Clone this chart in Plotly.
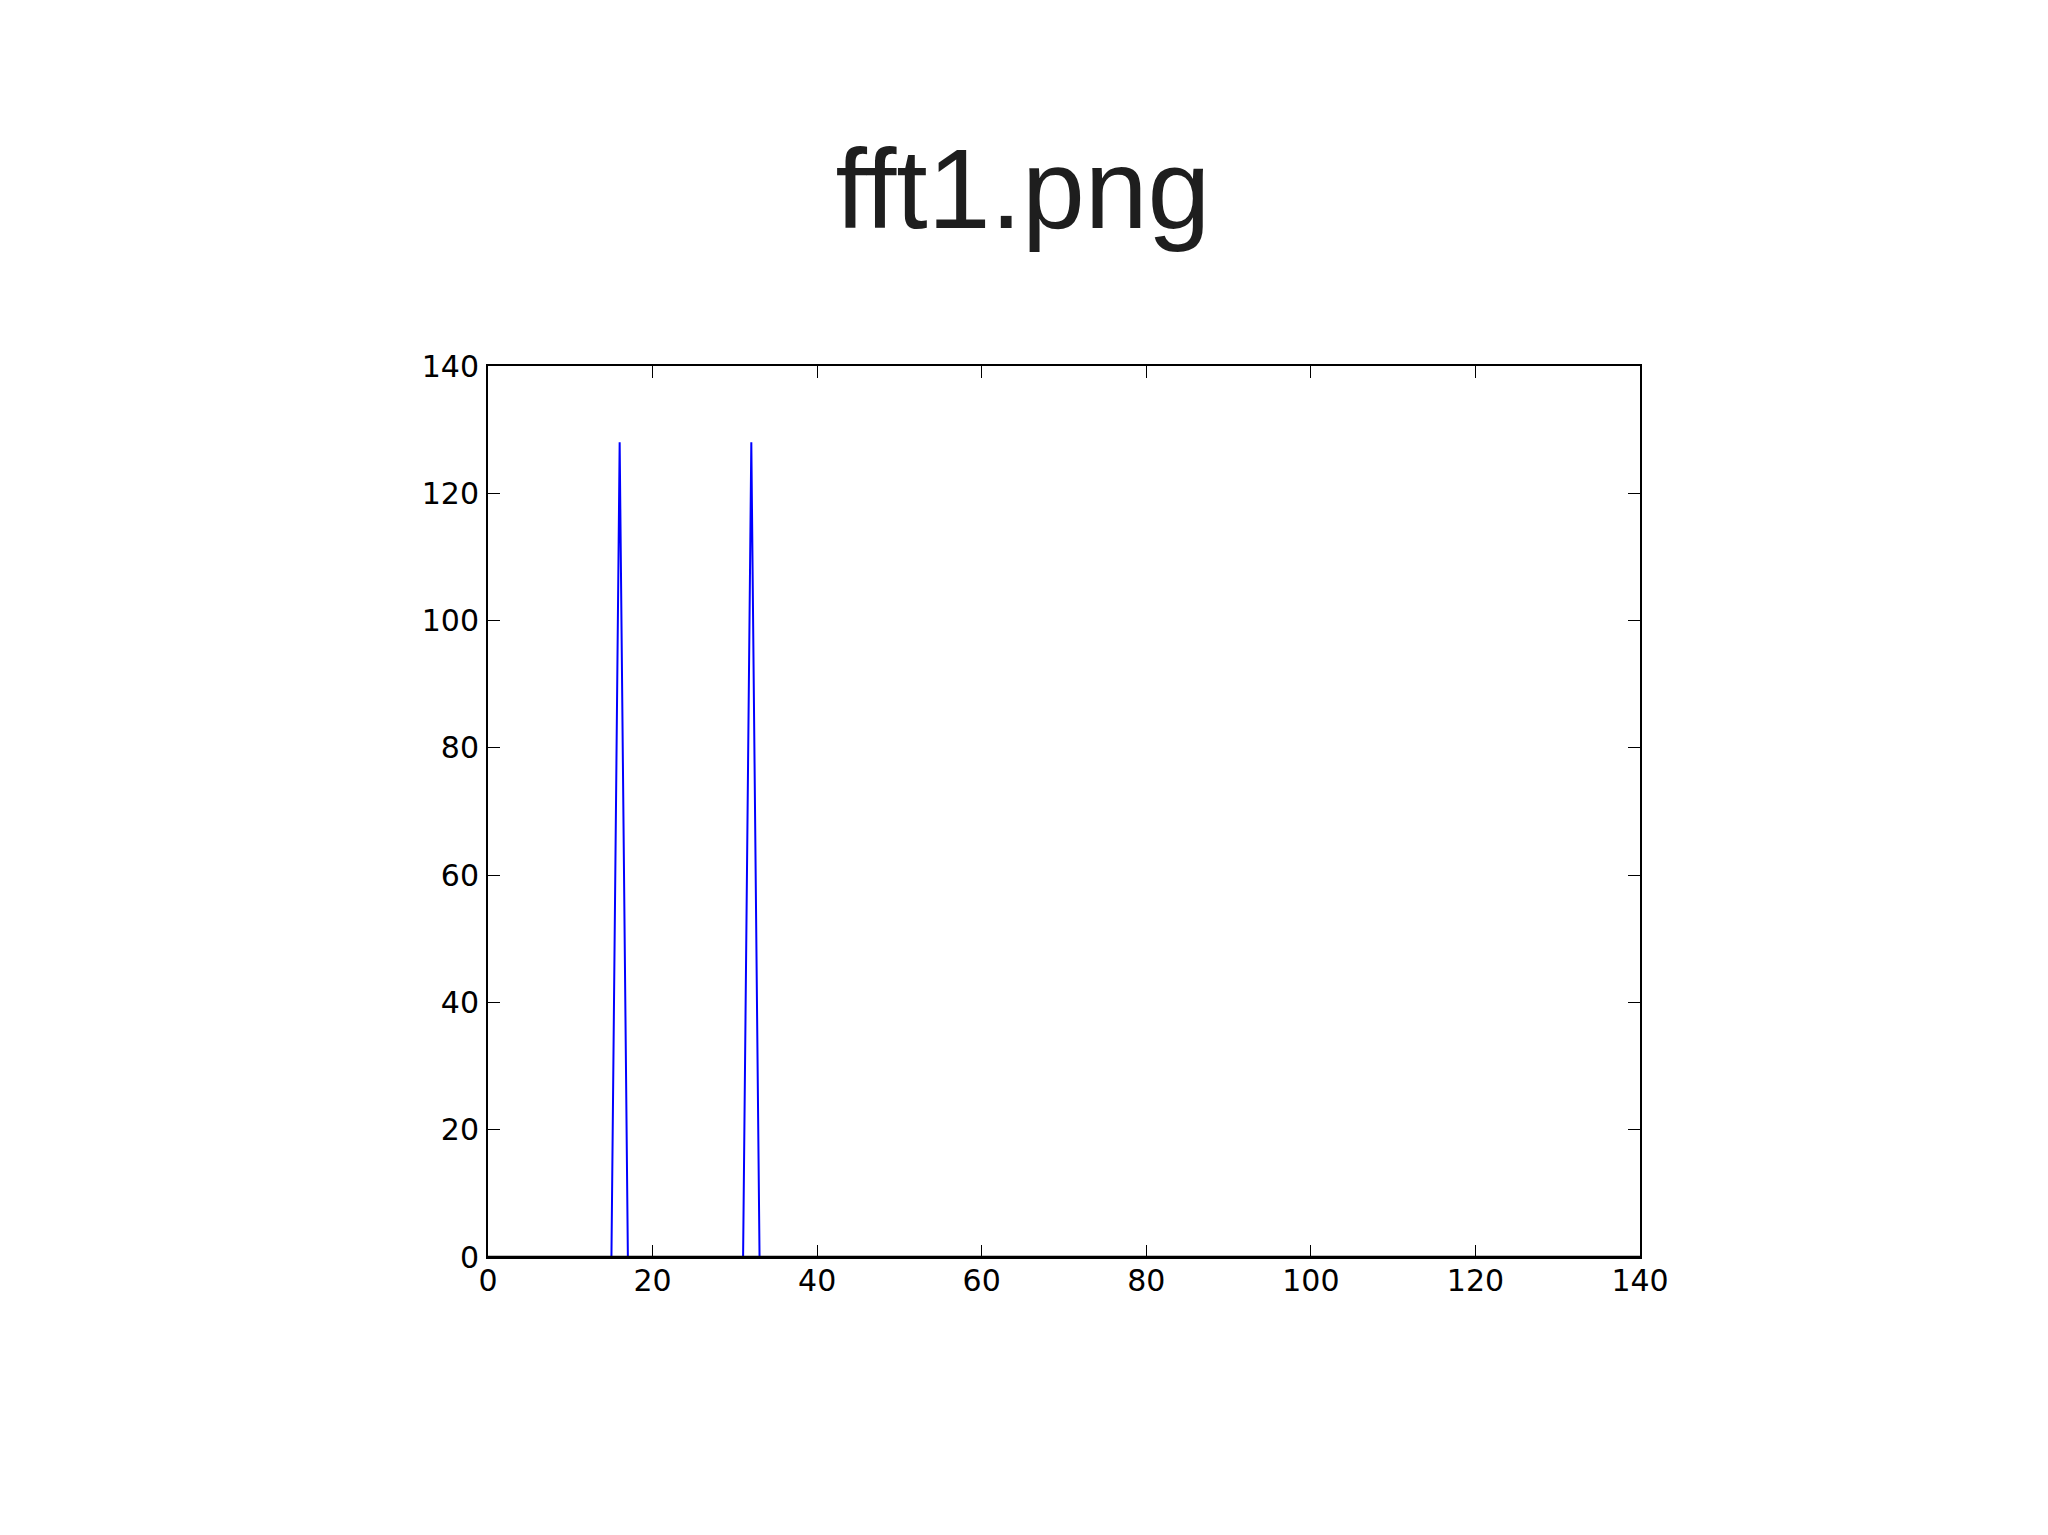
import plotly.graph_objects as go

# fft magnitude of 128 samples: two spikes, zero elsewhere
freq_bin = list(range(128))
magnitude = [0] * 128
magnitude[16] = 128
magnitude[32] = 128

x_ticks = [0, 20, 40, 60, 80, 100, 120, 140]
y_ticks = [0, 20, 40, 60, 80, 100, 120, 140]

fig = go.Figure()
fig.add_trace(go.Scatter(x=freq_bin, y=magnitude, mode='lines',
                         line=dict(color='#0000ff', width=2), showlegend=False))

axis_style = dict(showline=True, linecolor='black', linewidth=2, mirror='ticks',
                  ticks='inside', ticklen=12, tickwidth=1.2, tickcolor='black',
                  showgrid=False, zeroline=False, layer='above traces',
                  tickfont=dict(family='DejaVu Sans', size=30, color='black'))

# page body has an 8px margin, so everything is shifted back by 8px
fig.update_layout(
    width=2048, height=1535,
    paper_bgcolor='white', plot_bgcolor='white',
    margin=dict(l=480, r=416, t=358, b=286, autoexpand=False),
    title=dict(text='fft1.png', x=1015/2048, xanchor='center', y=1-180/1535, yanchor='middle',
               yref='container', font=dict(family='Liberation Sans', size=113, color='#1e1e1e')),
    xaxis=dict(range=[0, 140], tickvals=x_ticks, ticklabelstandoff=-4, **axis_style),
    yaxis=dict(range=[0, 140], tickvals=y_ticks, ticklabelstandoff=1, **axis_style),
)

# the bottom spine covers the zero-level part of the trace, as in matplotlib
fig.add_shape(type='line', xref='paper', yref='paper', x0=0, x1=1, y0=0, y1=0,
              line=dict(color='black', width=2.5), layer='above')

fig.write_html("out.html")
